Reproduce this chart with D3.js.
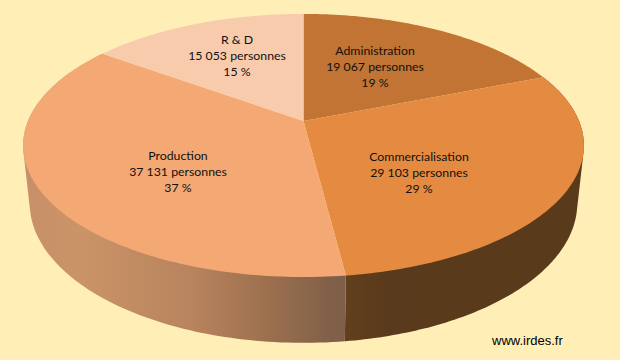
<!DOCTYPE html>
<html>
<head>
<meta charset="utf-8">
<script src="https://cdn.jsdelivr.net/npm/d3@7"></script>
<style>
    html, body { margin: 0; padding: 0; background: #FFEEB6; }
    svg { display: block; }
    text { font-family: Lato, "Open Sans", sans-serif; font-size: 12.3px; fill: #111; text-anchor: middle; }
    .credit { font-family: "Liberation Sans", Arial, sans-serif; font-size: 13px; text-anchor: start; fill: #000; }
</style>
</head>
<body>
<svg id="chart" width="620" height="360"></svg>
<script>
"use strict"

const categories = ["Administration", "Commercialisation", "Production", "R & D"];
const values = [19067, 29103, 37131, 15053];
const top_colors = ["#C17434", "#E58B41", "#F4A975", "#F8CBAD"];

///////////////////////////
// Perspective view of a disc: each plane is one face of the cylinder
const top_plane = {"x0": 303.5, "y0": 121, "a": 275.5, "b": 127, "k": 0.186};
const bottom_plane = {"x0": 303.5, "y0": 177, "a": 269, "b": 135, "k": 0.186};

function project(plane, angle, r) {
    // angle is clockwise from 12 o'clock, r is 0..1 from the pie's centre
    let u = r * Math.sin(angle);
    let v = -r * Math.cos(angle);
    let w = 1 - plane.k * v;
    return [plane.x0 + plane.a * u / w, plane.y0 + plane.b * v / w];
}

function arcPoints(plane, a0, a1) {
    return d3.range(0, 121).map(i => project(plane, a0 + (a1 - a0) * i / 120, 1));
}

const svg = d3.select("#chart");
const line = d3.line();
const pie = d3.pie().sort(null);
const slices = pie(values);
const total = d3.sum(values);
const number = d3.formatLocale({"thousands": "\u00a0", "grouping": [3], "decimal": ",", "currency": ["", ""]}).format(",d");

///////////////////////////
// Side wall gradients, light on the left to dark on the right
const defs = svg.append("defs");
function wallGradient(id, stops) {
    let g = defs.append("linearGradient")
        .attr("id", id)
        .attr("gradientUnits", "userSpaceOnUse")
        .attr("x1", 23).attr("x2", 584).attr("y1", 0).attr("y2", 0);
    g.selectAll("stop")
        .data(stops).enter()
        .append("stop")
            .attr("offset", d => d[0])
            .attr("stop-color", d => d[1]);
}
const wall_fills = {
    1: ["wall1", [[0, "#5A3A1C"], [0.57, "#62401E"], [0.65, "#5A3A1C"], [1, "#593A1B"]]],
    2: ["wall2", [[0, "#C79069"], [0.1, "#CB9367"], [0.3, "#B8845E"], [0.42, "#A0724F"], [0.55, "#806048"], [0.6, "#7F5C48"], [1, "#7F5C48"]]]
};
Object.keys(wall_fills).forEach(i => wallGradient(wall_fills[i][0], wall_fills[i][1]));

// Only the two front slices show a wall. The hull gives the straight
// silhouette between the two faces at the far left and right.
svg.append("g")
    .selectAll("path")
    .data(slices.filter(s => wall_fills[s.index])).enter()
    .append("path")
        .attr("d", s => line(d3.polygonHull(arcPoints(top_plane, s.startAngle, s.endAngle)
            .concat(arcPoints(bottom_plane, s.startAngle, s.endAngle)))) + "Z")
        .attr("fill", s => "url(#" + wall_fills[s.index][0] + ")");

// Top face
const apex = project(top_plane, 0, 0);
svg.append("g")
    .selectAll("path")
    .data(slices).enter()
    .append("path")
        .attr("d", s => line([apex].concat(arcPoints(top_plane, s.startAngle, s.endAngle))) + "Z")
        .attr("fill", s => top_colors[s.index]);

///////////////////////////
// Labels: name, head count, share
const label_centres = [[375, 67], [419, 173], [178, 172], [237, 56]];
const labels = svg.append("g")
    .selectAll("text")
    .data(slices).enter()
    .append("text")
        .attr("transform", s => "translate(" + label_centres[s.index] + ")");

labels.selectAll("tspan")
    .data(s => [
        categories[s.index],
        number(s.value) + " personnes",
        Math.round(s.value / total * 100) + "\u00a0%"
    ]).enter()
    .append("tspan")
        .attr("x", 0)
        .attr("y", (d, i) => (i - 1) * 16 + 4)
        .text(d => d);

svg.append("text")
    .attr("class", "credit")
    .attr("x", 492)
    .attr("y", 345)
    .text("www.irdes.fr");
</script>
</body>
</html>
